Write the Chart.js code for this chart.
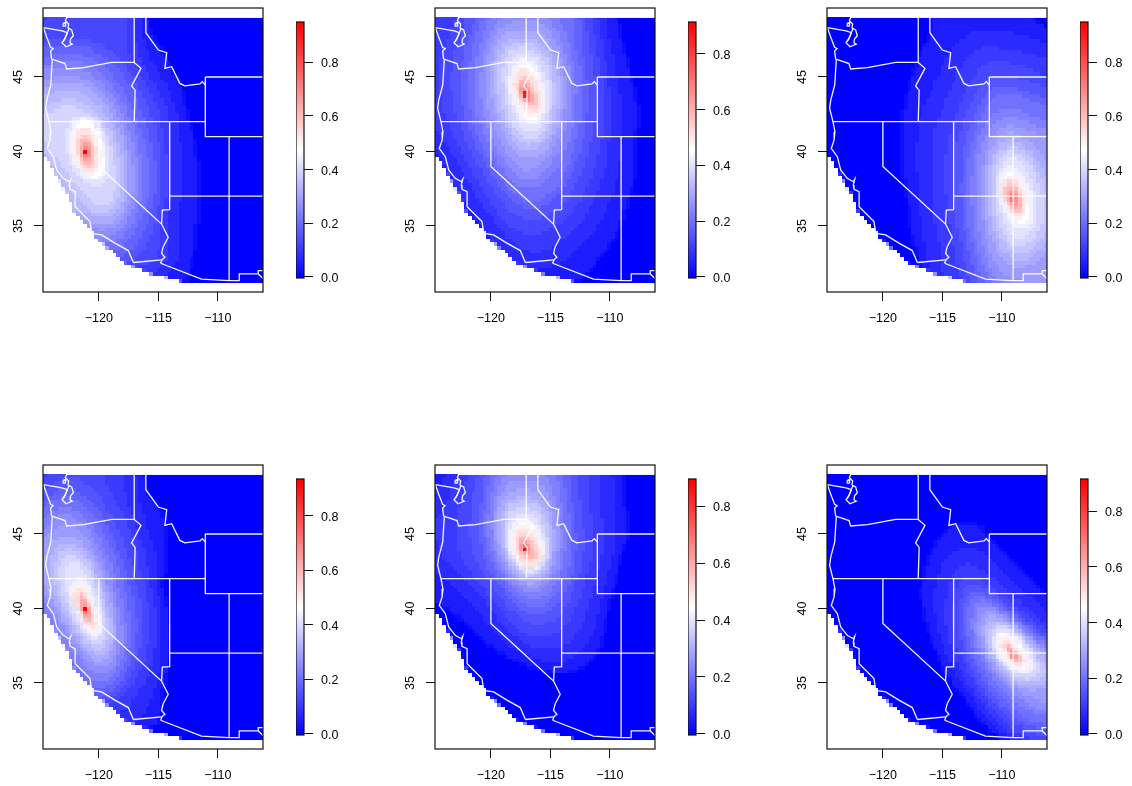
<!DOCTYPE html>
<html>
<head>
    <title>Six western US heat maps</title>
    <script src="https://cdn.jsdelivr.net/npm/chart.js"></script>
    <style>
        body { margin: 0; background: #fff; }
        canvas { position: absolute; }
    </style>
</head>
<body>
    <script>
        // Tick labels
        var xTickValues = [-120, -115, -110];
        var yTickValues = [35, 40, 45];
        var barTickValues = [0, 0.2, 0.4, 0.6, 0.8];

        // Top of each colour bar
        var barMax = [0.95, 0.914, 0.95, 0.934, 0.896, 0.916];

        // Contour levels and rings (lon, lat, lon, lat ...)
        var p1Levels = [0.062, 0.124, 0.19, 0.26, 0.333, 0.404, 0.475, 0.522, 0.594, 0.665, 0.76, 0.95];
        var p1Rings = [
            [-115.9,50,-115.6,48,-114.4,46.8,-113.8,45.5,-112.8,44.4,-112.5,42.5,-112,41.5,-111.7,40,-111.4,37.5,-111.4,36.2,-111.7,35,-111.9,33,-112.2,32.3,-112.6,31,-125,31,-125,50],
            [-124,50,-117.1,50,-116.9,47.5,-116.5,46,-115.2,44.5,-114.2,42.6,-114,41,-113.9,38,-114,36.5,-114.4,36,-114.1,34.5,-114.2,33,-114.6,32.5,-115,32,-125,31,-125,48.4],
            [-124.7,47.2,-123.5,47.4,-122,47.4,-120.3,47.1,-118.7,46.2,-117.4,45,-116.6,43.7,-115.7,42,-115.1,40,-114.9,38,-115.1,36.5,-115.6,35,-116.4,33.7,-117.2,33,-125,31,-125,47.2],
            [-124.7,45.8,-123.5,46,-122,46.1,-120.5,45.7,-119.3,44.8,-118.2,43.6,-117.4,42.2,-116.7,40.5,-116.3,38.7,-116.4,37,-116.9,35.7,-117.6,34.7,-118.5,34,-125,33,-125,45.8],
            [-124.7,44.2,-124,44.6,-122.7,44.8,-121.3,44.6,-120,43.9,-119,42.8,-118.2,41.5,-117.7,40,-117.4,38.5,-117.5,37,-118,36,-118.7,35.2,-119.6,35,-121,35.4,-125,36,-125,44.2],
            [-124.7,42.4,-123.6,43.2,-122.4,43.4,-121.2,43,-120,42.2,-119.1,41.2,-118.5,39.8,-118.2,38.5,-118.3,37.1,-119,36.1,-120.2,35.9,-121.2,36.7,-122.5,38,-124.2,40,-124.7,41],
            [-121.6,42.3,-120.6,42.2,-119.8,41.3,-119.4,40,-119.3,38.9,-119.8,38.1,-120.6,38,-121.5,38.5,-122.2,39.5,-122.5,40.8,-122.2,41.8],
            [-121.5,41.7,-120.8,41.6,-120.3,41,-120,40,-120,39.1,-120.4,38.5,-120.9,38.45,-121.5,38.9,-122,39.8,-122.15,40.8,-121.9,41.5],
            [-121.4,41.1,-120.9,41,-120.5,40.4,-120.4,39.5,-120.6,39,-121,38.9,-121.4,39.3,-121.8,40.1,-121.8,40.8],
            [-121.3,40.6,-120.9,40.5,-120.7,39.9,-120.8,39.5,-121.1,39.3,-121.4,39.6,-121.5,40.2],
            [-121.2,40.25,-121,40.2,-120.95,39.8,-121.1,39.6,-121.25,39.8],
            [-121.25,40.1,-120.95,40.1,-120.95,39.85,-121.25,39.85]
        ];

        var p2Levels = [0.059, 0.091, 0.137, 0.206, 0.274, 0.343, 0.411, 0.457, 0.503, 0.571, 0.64, 0.731, 0.914];
        var p2Rings = [
            [-109.6,50,-109,48.2,-108.6,46.8,-108.2,45.2,-107.6,43.6,-107.6,41,-107.7,38.5,-108.2,37,-108.6,35.8,-109.6,34,-110.6,33,-112.7,31.1,-125,31,-125,50],
            [-111.5,50,-110.8,47.5,-110.3,46,-110,44.5,-109.6,43,-109.6,41,-109.8,39,-110.3,37.5,-111,36,-112,34.8,-113,34,-114.5,33,-116,32.5,-118,33,-120,35,-122,37.5,-123.5,39.5,-124.7,41.3,-125,50],
            [-122.3,50,-111.8,50,-110.9,47,-110.5,45,-110.4,43,-110.6,41,-111.2,39,-112,37.5,-113,36,-114.5,35,-116.5,34.3,-118.5,35,-120,36.5,-121.5,38.5,-122.8,40.5,-124,43,-124.3,45.5,-123.8,47.5],
            [-120.8,50,-113.2,50,-112.5,47,-112,45,-111.9,43.5,-112.2,41.5,-112.7,39.8,-113.5,38.2,-114.5,37,-116,36.2,-117.5,36.3,-119,37.5,-120.5,39.5,-121.7,41.5,-122.4,43.5,-122.4,45.5,-121.8,47.5],
            [-119.6,48.9,-117.3,49.3,-115,48.9,-113.9,47,-113.3,45,-113.3,43.5,-113.6,41.8,-114.3,40,-115.2,38.8,-116.5,38,-117.8,38.2,-119,39.5,-120,41,-120.8,43,-120.9,45,-120.3,47.5],
            [-119.1,47.6,-117.5,47.9,-115.8,47.6,-114.9,46.5,-114.3,45,-114.3,43.3,-114.6,41.8,-115.3,40.6,-116.5,39.8,-117.5,40,-118.5,41.2,-119.4,43,-119.8,45,-119.6,46.7],
            [-118.8,46.6,-117.3,46.9,-115.8,46.4,-115.1,45.5,-114.9,44,-115,42.4,-115.6,41.2,-116.6,40.8,-117.7,41.1,-118.5,42.3,-119,44,-119.1,45.6],
            [-118,45.8,-117.2,46.2,-116.2,45.6,-115.5,44.3,-115.4,43,-115.9,42.1,-116.7,41.9,-117.6,42.5,-118.2,43.5,-118.4,44.8],
            [-117.9,45.3,-117.2,45.6,-116.5,45.2,-115.9,44.3,-115.7,43.3,-116,42.6,-116.6,42.4,-117.3,42.8,-118,43.8,-118.2,44.6],
            [-117.6,44.9,-117.1,45.1,-116.6,44.6,-116.2,43.9,-116.1,43.2,-116.5,42.9,-117,43.1,-117.5,43.6,-117.8,44.3],
            [-117.5,44.5,-117,44.5,-116.6,44,-116.5,43.4,-116.8,43.3,-117.2,43.5,-117.5,44],
            [-117.3,44.2,-116.9,44.1,-116.8,43.7,-117,43.5,-117.3,43.7],
            [-117.2,44.1,-116.95,44.1,-116.95,43.65,-117.2,43.65]
        ];

        var p3Levels = [0.062, 0.095, 0.143, 0.214, 0.285, 0.356, 0.428, 0.475, 0.522, 0.594, 0.665, 0.76, 0.95];
        var p3Rings = [
            [-116.1,50,-116.1,48,-116.8,47,-117.2,46,-117.9,44.5,-118.3,43.2,-118.5,41,-118.6,39.5,-118.3,37.8,-117.9,36,-117.7,34.6,-117,32.6,-116,31,-106,31,-106,48,-107,48.8,-108,50],
            [-112.5,47.6,-110.5,47.5,-108.5,47.3,-106,46.5,-106,31,-115.6,31,-116,33.5,-116.3,35,-116.5,37,-116.6,39,-116.5,41,-116,42.7,-115.2,44,-114.2,46],
            [-111.5,46,-109.5,46,-107.5,45.5,-106,44.5,-106,31,-113,31,-113.8,33,-114.3,35,-114.6,37,-114.7,39,-114.4,41,-113.8,42.5,-113,44.2,-112.4,45],
            [-111,44.2,-109.5,44.3,-107.5,43.8,-106,43,-106,31,-111.7,31,-112.4,32.5,-113,34.5,-113.3,36.5,-113.3,38.5,-113,40.3,-112.4,42,-111.7,43.2],
            [-110.5,42.2,-109.3,42.4,-107.8,42,-106,41,-106,31,-109.5,31,-110.6,31.5,-111.4,33,-112,35,-112.2,37,-112.1,38.8,-111.7,40.5,-111.1,41.5],
            [-110.2,40.8,-109.2,41,-108,40.5,-107,39.5,-106.4,38,-106.2,36,-106.4,34,-107.2,32.8,-108.5,32.5,-109.8,33,-110.6,34.3,-111,36,-111.1,38,-110.8,39.6],
            [-110.3,39.7,-109.2,40.1,-108,39.6,-107.2,38.4,-106.8,36.7,-106.9,35,-107.7,33.9,-108.9,33.6,-109.9,34.6,-110.6,36,-110.7,37.5,-110.6,38.8],
            [-109.9,38.7,-109.2,38.9,-108.4,38.4,-107.7,37.3,-107.4,36,-107.6,35.2,-108.2,34.9,-109,35.3,-109.7,36,-110.2,37,-110.4,38],
            [-109.8,38.2,-109.2,38.4,-108.5,37.9,-108,37,-108,36,-108.3,35.5,-108.9,35.6,-109.6,36.3,-110.1,37.1,-110.2,37.8],
            [-109.6,37.9,-109.1,38,-108.6,37.5,-108.3,36.6,-108.3,36,-108.7,35.8,-109.3,36.2,-109.8,36.9,-109.9,37.5],
            [-109.4,37.5,-109,37.6,-108.7,37.1,-108.6,36.4,-108.8,36.2,-109.2,36.5,-109.5,37],
            [-109.2,37.2,-108.9,37.2,-108.8,36.7,-109,36.5,-109.2,36.7],
            [-109,36.9,-108.9,36.9,-108.9,36.75,-109,36.75]
        ];

        var p4Levels = [0.061, 0.093, 0.14, 0.21, 0.28, 0.35, 0.42, 0.467, 0.514, 0.584, 0.654, 0.747, 0.934];
        var p4Rings = [
            [-116.1,50,-116,48.1,-115,46.9,-114.3,46,-114.3,42.5,-114.6,42,-114.6,41,-114.2,40,-114.1,37,-114.2,36,-114.5,34.7,-114.6,33,-115,32,-125,31,-125,50],
            [-117.1,50,-117,47,-116.8,45.5,-116,44.3,-115.6,42.5,-115.1,41,-115,39,-114.9,37,-115,36,-115.6,34.8,-116.5,33.5,-117.3,32.7,-125,31,-125,50],
            [-124.7,48,-123.5,50,-120.3,50,-118.9,47.5,-117.5,46,-117,44.5,-116.5,43,-116,41,-115.7,39.5,-115.9,37.5,-116.5,36,-117.3,35,-118.3,34.2,-125,31.5],
            [-124.7,46.8,-123.7,47.8,-122.3,48,-120.8,47.2,-119.7,46,-118.8,44.5,-118,43,-117.4,41.2,-116.9,39.5,-117,37.8,-117.5,36.3,-118.2,35,-119.3,34.3,-125,34],
            [-124.6,45,-123.5,46.3,-122.4,46.3,-121,45.5,-120.2,44.3,-119.5,43,-118.9,41.3,-118.3,39.5,-118.1,38,-118.4,36.6,-119.1,35.6,-120.2,35.5,-121.5,36.7,-123.5,39,-125,41.5],
            [-124,44,-123.3,44.7,-122.3,44.6,-121.2,43.9,-120.4,42.6,-119.7,41.2,-119.2,39.7,-118.9,38.3,-119.2,37,-120,36.5,-120.9,37.2,-122,38.5,-123.3,40.3,-124.2,42],
            [-123.4,43.2,-122.3,43.7,-121,43,-120.1,41.6,-119.5,40.1,-119.2,38.7,-119.5,37.5,-120.4,37.3,-121.4,38.2,-122.5,39.6,-123.3,41.3],
            [-122.3,41.5,-121.5,41.9,-120.8,41.3,-120.1,40,-119.8,38.8,-120.2,38.2,-120.8,38.3,-121.5,39,-122.1,40.2,-122.4,41],
            [-122.1,41.2,-121.6,41.6,-121,41,-120.4,39.9,-120.1,39,-120.3,38.5,-120.8,38.6,-121.4,39.3,-122,40.2,-122.2,40.8],
            [-121.8,40.9,-121.5,41.1,-121,40.5,-120.6,39.6,-120.5,39,-120.8,38.9,-121.3,39.5,-121.7,40.2],
            [-121.5,40.5,-121.2,40.6,-120.9,40,-120.8,39.4,-121,39.3,-121.3,39.7,-121.5,40.1],
            [-121.3,40.2,-121,40.2,-120.9,39.8,-121.1,39.6,-121.3,39.9],
            [-121.25,40.1,-120.95,40.1,-120.95,39.85,-121.25,39.85]
        ];

        var p5Levels = [0.058, 0.09, 0.134, 0.202, 0.269, 0.336, 0.403, 0.448, 0.493, 0.56, 0.627, 0.717, 0.896];
        var p5Rings = [
            [-123.7,50,-109,50,-108.6,47.2,-108.3,45,-108.7,44,-109,43.2,-109.4,41.7,-110,40,-110.6,37.6,-111.1,36.6,-112.8,35.7,-114.6,35.5,-116.7,36,-119.5,37,-122.3,39,-124.7,40.5,-125,41,-125,48.4],
            [-122.6,50,-110.8,50,-110.3,47,-110,45,-110.3,43,-110.9,41.5,-111.3,39.5,-112.2,38,-113.5,37,-115.2,36.7,-117,37.2,-119,38.5,-121,40.5,-122.8,42,-124.5,43,-124.7,46,-124,48],
            [-121.3,50,-112.3,50,-111.8,47,-111.4,45,-111.6,43,-112.2,41.5,-112.8,40,-114,38.5,-115.5,38,-117.3,38.3,-119,39.7,-120.7,41.5,-122.3,43,-123,45,-122.6,47.5],
            [-120.2,50,-113.8,50,-113.3,47,-112.9,45,-113,43.2,-113.6,41.6,-114.5,40.3,-115.8,39.6,-117.2,39.9,-118.6,41,-120,42.7,-120.8,44.5,-120.8,46.5],
            [-119.3,48.9,-117.2,49.2,-115.2,48.9,-114.5,47.2,-114.1,45.3,-114.2,43.5,-114.8,42,-115.7,41.2,-116.8,41,-118,41.6,-119.2,43,-119.8,44.8,-119.8,47],
            [-119,47.3,-117.5,47.7,-115.8,47.3,-115,46,-114.9,44.3,-115.3,42.8,-116.2,42,-117.1,42,-118.2,42.8,-119.1,44.3,-119.3,46],
            [-118.9,46.4,-117.3,46.9,-115.8,46.3,-115.3,45,-115.3,43.6,-115.8,42.6,-116.8,42.2,-117.9,42.9,-118.8,44.4],
            [-118.2,45.7,-117.2,46,-116.2,45.5,-115.5,44.6,-115.4,43.4,-116,42.6,-116.8,42.5,-117.8,43,-118.5,43.9,-118.6,44.9],
            [-118,45.3,-117.2,45.5,-116.4,45.1,-115.8,44.2,-115.7,43.3,-116.2,42.8,-116.9,42.7,-117.6,43.3,-118.1,44.1,-118.2,44.8],
            [-117.8,44.8,-117.1,45,-116.5,44.5,-116.2,43.9,-116.2,43.4,-116.7,43.2,-117.3,43.4,-117.7,43.9],
            [-117.5,44.5,-117,44.5,-116.6,44,-116.6,43.6,-116.9,43.6,-117.3,43.7,-117.5,44.1],
            [-117.3,44.3,-116.95,44.3,-116.85,44,-117,43.8,-117.3,43.9],
            [-117.2,44.2,-116.95,44.2,-116.95,43.75,-117.2,43.75]
        ];

        var p6Levels = [0.06, 0.092, 0.137, 0.206, 0.275, 0.344, 0.412, 0.458, 0.504, 0.573, 0.641, 0.733, 0.916];
        var p6Rings = [
            [-113.8,45.9,-111.8,45.7,-110.9,44.8,-109.2,43.4,-107.5,42.1,-106.3,41,-106,41,-106,31,-109.4,31,-110.8,31.8,-112.2,32.8,-113.6,34.4,-114.9,35.5,-115.3,36.6,-116.2,38.2,-116.7,39.9,-116.9,41,-116.5,42.8,-116,44.1,-115.1,45.1],
            [-114.1,43.2,-112.6,43.6,-111,42.7,-109.5,41.5,-108,40.5,-106.6,39.4,-106,38.8,-106,31,-108.5,31,-110,31.8,-111.5,33.2,-113,35,-114,36.3,-114.9,38,-115.1,39.8,-115,41.5,-114.7,42.6],
            [-113.6,41.9,-112.5,42.3,-111,41.4,-109.5,40.4,-108,39.4,-106.7,38.5,-106,37.9,-106,31,-107.5,31,-109,31.9,-110.5,33,-112,34.6,-113,36.2,-113.8,38,-114.1,39.9],
            [-113,41,-111.7,41.2,-110.5,40.4,-109,39.5,-107.5,38.5,-106,37.4,-106,32,-107,32,-108.7,32.6,-110.2,33.7,-111.6,35.2,-112.7,37,-113.3,38.8],
            [-112.1,40.3,-111,40.4,-109.8,39.5,-108.5,38.6,-107,37.7,-106,36.8,-106,33.2,-107.2,33.3,-108.8,34.2,-110.2,35.5,-111.5,37,-112.3,38.6],
            [-111.3,39.5,-110.4,39.6,-109.3,38.7,-108,37.7,-106.8,36.7,-106.2,35.6,-107,34.8,-108.5,35,-109.8,35.9,-110.9,37,-111.5,38.3],
            [-110.9,38.6,-109.7,39.1,-108.6,38.6,-107.5,37.5,-106.8,36.3,-107,35.3,-108.3,35.1,-109.6,35.7,-110.8,36.8,-111.2,37.8],
            [-110.6,38.3,-109.7,38.6,-108.7,38.1,-107.8,37.2,-107.4,36.2,-107.9,35.7,-109.1,35.9,-110.3,36.7,-110.7,37.6],
            [-110,38,-109.5,38.1,-108.8,37.5,-108.1,36.8,-107.9,36.3,-108.5,36.1,-109.2,36.4,-110,37.1,-110.2,37.6],
            [-109.7,37.7,-109.4,37.7,-108.9,37.2,-108.4,36.7,-108.3,36.5,-108.7,36.4,-109.3,36.8,-109.7,37.3],
            [-109.5,37.5,-109.2,37.4,-108.9,37,-108.6,36.7,-108.7,36.55,-109.1,36.7,-109.5,37.1],
            [-109.2,37.1,-109,37.1,-108.8,36.8,-108.9,36.65,-109.2,36.8],
            [-109.05,37,-108.9,37,-108.9,36.75,-109.05,36.75]
        ];

        // Edge of the gridded area (same in all panels)
        var gridOutline = [-125,50,-106,50,-106,30,-125,30];
        var northMask = [-125,49.05,-106,49.05,-106,50,-125,50];
        var offshoreMask = [-125,39.8,-124.67,39.77,-124.1,39.2,-123.83,38.75,-123.4,38.1,-122.85,37.4,-122.3,36.6,-122,35.85,-121.3,35.3,-120.6,34.6,-119.9,33.95,-119.2,33.5,-118.65,33.15,-117.95,32.6,-116.85,32.15,-115.15,31.7,-114.05,31.5,-112.75,31.15,-106,31.15,-106,30,-125,30];

        // State lines and coast
        var borderLines = [
            [-122.76,49,-106,49],
            [-124.67,48.31,-124.4,47.7,-124.06,46.99,-123.85,46.9,-124.06,46.75,-123.98,46.25,-123.92,46.14,-124.05,44.46,-124.38,43.46,-124.48,42.9,-124.2,42,-124.03,41.33,-124.1,40.77,-124.34,40.2,-123.83,39.65,-123.55,38.76,-123,38.2,-122.49,37.97,-122.37,38.13,-122.49,37.75,-122.43,37.46,-122,37.3,-122,36.3,-120.75,35.3,-120.6,34.5,-119.77,34.4,-118.65,33.85,-117.53,33.35,-117.1,32.55],
            [-124.67,48.31,-123.1,48.1,-122.65,47.97],
            [-122.71,49,-122.82,48.78,-122.54,48.56,-122.6,48.29,-122.29,48.15,-122.15,47.77,-122.38,47.57,-122.43,47.3,-122.24,47.21,-122.77,47.03,-123.1,47.3,-122.85,47.57,-122.65,47.97],
            [-123,48.6,-122.77,48.67,-122.82,48.42,-123,48.42,-123,48.6],
            [-122.5,48.27,-122.77,47.75,-123,47.37],
            [-123.89,46.18,-122.85,45.9,-122.71,45.54,-121.3,45.63,-118.93,45.98,-117.03,45.98],
            [-117.03,49,-117.03,45.98,-116.46,45.58,-117.25,44.4,-116.95,44.1,-117.03,42],
            [-116.05,49,-116.05,47.97,-115,46.81,-114.3,46.63,-114.45,45.58,-113.88,45.69,-113.19,44.57,-112.77,44.4,-111.5,44.53,-111.3,44.69,-111.05,44.46],
            [-124.2,42,-111.05,42],
            [-111.05,45,-111.05,41,-106,41],
            [-111.05,45,-106,45],
            [-120,42,-120,39,-114.73,35.13,-114.17,34.24,-114.59,33.61,-114.73,33.16,-114.45,32.9,-114.67,32.76,-114.81,32.5],
            [-114.05,42,-114.05,36.1,-114.67,36.07,-114.73,35.13],
            [-117.1,32.55,-114.72,32.72],
            [-114.05,37,-106,37],
            [-109.05,41,-109.05,31.33],
            [-114.81,32.5,-111.37,31.44,-109.07,31.33,-108.2,31.33,-108.2,31.78,-106.6,31.78,-106.2,31.48],
            [-106.6,31.78,-106.6,32,-106,32]
        ];

        var panelLeft = [43, 435, 827, 43, 435, 827];
        var panelTop = [8, 8, 8, 465, 465, 465];
        var panelLevels = [p1Levels, p2Levels, p3Levels, p4Levels, p5Levels, p6Levels];
        var panelRings = [p1Rings, p2Rings, p3Rings, p4Rings, p5Rings, p6Rings];

        Chart.defaults.font.family = '"Liberation Sans", Arial, sans-serif';
        Chart.defaults.font.size = 12.5;
        Chart.defaults.color = '#000';
        Chart.defaults.animation = false;

        function toPoints(flat) {
            var pts = [];
            for (var i = 0; i < flat.length; i += 2) {
                pts.push({ x: flat[i], y: flat[i + 1] });
            }
            return pts;
        }

        // blue - white - red with white half way up the panel's own range
        function valueColor(v, max) {
            var half = max / 2;
            if (v <= half) {
                var g = Math.round(255 * v / half);
                return 'rgb(' + g + ',' + g + ',255)';
            }
            var r = Math.round(255 * (max - v) / half);
            return 'rgb(255,' + r + ',' + r + ')';
        }

        function minusLabel(v) {
            return v < 0 ? '\u2212' + Math.abs(v) : String(v);
        }

        function addCanvas(left, top, width, height) {
            var c = document.createElement('canvas');
            c.width = width;
            c.height = height;
            c.style.left = left + 'px';
            c.style.top = top + 'px';
            document.body.appendChild(c);
            return c.getContext('2d');
        }

        // box round the plot region, like R's box()
        var framePlugin = {
            id: 'frame',
            afterDraw: function(chart) {
                var a = chart.chartArea, ctx = chart.ctx;
                ctx.save();
                ctx.strokeStyle = '#111';
                ctx.lineWidth = 1.2;
                ctx.strokeRect(a.left, a.top, a.right - a.left, a.bottom - a.top);
                ctx.restore();
            }
        };

        // softens the contour steps inside the plot region
        function softenArea(chart, px) {
            var a = chart.chartArea, ctx = chart.ctx;
            var w = a.right - a.left, h = a.bottom - a.top;
            var copy = document.createElement('canvas');
            copy.width = ctx.canvas.width;
            copy.height = ctx.canvas.height;
            copy.getContext('2d').drawImage(ctx.canvas, a.left, a.top, w, h, a.left, a.top, w, h);
            ctx.save();
            ctx.beginPath();
            ctx.rect(a.left, a.top, w, h);
            ctx.clip();
            ctx.filter = 'blur(' + px + 'px)';
            ctx.drawImage(copy, 0, 0);
            ctx.restore();
        }

        function rampStep(raw) {
            var step = 255 / 18;
            return raw < 17 ? 0 : Math.min(255, Math.round(Math.round(raw / step) * step));
        }

        // Turns the painted surface into grid cells with a limited colour ramp
        function toCells(chart) {
            var a = chart.chartArea;
            var w = a.right - a.left, h = a.bottom - a.top;
            var gridTop = chart.scales.y.getPixelForValue(49.05) - a.top;
            var cw = 3.67, ch = 3.7;
            var src = chart.ctx.getImageData(a.left, a.top, w, h);
            var out = chart.ctx.createImageData(w, h);
            for (var y = 0; y < h; y++) {
                var row = Math.floor((y + 0.5 - gridTop) / ch);
                var sy = Math.min(h - 1, Math.max(0, Math.floor(gridTop + (row + 0.5) * ch)));
                for (var x = 0; x < w; x++) {
                    var sx = Math.min(w - 1, Math.floor((Math.floor((x + 0.5) / cw) + 0.5) * cw));
                    var s = (sy * w + sx) * 4, d = (y * w + x) * 4;
                    var g = rampStep(src.data[s + 1]);
                    out.data[d] = src.data[s] > 250 ? 255 : g;
                    out.data[d + 1] = g;
                    out.data[d + 2] = src.data[s + 2] > 250 ? 255 : g;
                    out.data[d + 3] = 255;
                }
            }
            chart.ctx.putImageData(out, a.left, a.top);
        }

        var cellPlugin = {
            id: 'cells',
            afterDatasetDraw: function(chart, args) {
                var ds = chart.data.datasets[args.index];
                if (ds.softenPx) softenArea(chart, ds.softenPx);
                if (ds.cellLayer) toCells(chart);
            }
        };

        function fixedTicks(values) {
            return function(scale) {
                scale.ticks = values.map(function(v) { return { value: v }; });
            };
        }

        function tickGrid() {
            return { drawOnChartArea: false, drawTicks: true, tickLength: 9, color: '#111', lineWidth: 1 };
        }

        function noAxisPadding(s) {
            s.paddingTop = 0;
            s.paddingBottom = 0;
            s.paddingLeft = 0;
            s.paddingRight = 0;
        }

        function shape(flat, color, tension) {
            return {
                data: toPoints(flat),
                showLine: true,
                fill: 'shape',
                backgroundColor: color,
                borderWidth: 0,
                pointRadius: 0,
                tension: tension
            };
        }

        function drawMap(i) {
            var max = barMax[i];
            var levels = panelLevels[i];
            var sets = [shape(gridOutline, valueColor(0, max), 0)];
            panelRings[i].forEach(function(ring, k) {
                var s = shape(ring, valueColor(levels[k], max), 0.3);
                if (k === levels.length - 7) s.softenPx = 7;
                if (k === levels.length - 6) s.softenPx = 3;
                if (k === levels.length - 2) s.softenPx = 1.5;
                sets.push(s);
            });
            sets.push(shape(northMask, '#fff', 0));
            var mask = shape(offshoreMask, '#fff', 0);
            mask.cellLayer = true;
            sets.push(mask);
            borderLines.forEach(function(line) {
                sets.push({
                    data: toPoints(line),
                    showLine: true,
                    fill: false,
                    borderColor: 'rgba(255,255,255,0.95)',
                    borderWidth: 1.3,
                    pointRadius: 0,
                    tension: 0
                });
            });
            sets.forEach(function(s, k) { s.order = sets.length - k; });

            new Chart(addCanvas(panelLeft[i] - 43, panelTop[i] - 8, 268, 342), {
                type: 'scatter',
                data: { datasets: sets },
                plugins: [cellPlugin, framePlugin],
                options: {
                    responsive: false,
                    devicePixelRatio: 1,
                    layout: { padding: { top: 8, right: 5, left: 0, bottom: 0 } },
                    plugins: { legend: { display: false }, tooltip: { enabled: false } },
                    scales: {
                        x: {
                            type: 'linear', min: -124.7, max: -106.2,
                            afterBuildTicks: fixedTicks(xTickValues),
                            afterFit: function(s) { s.height = 50; noAxisPadding(s); },
                            grid: tickGrid(),
                            border: { display: false },
                            ticks: { callback: minusLabel, maxRotation: 0, padding: 10, autoSkip: false }
                        },
                        y: {
                            type: 'linear', min: 30.57, max: 49.63,
                            afterBuildTicks: fixedTicks(yTickValues),
                            afterFit: function(s) { s.width = 43; noAxisPadding(s); },
                            grid: tickGrid(),
                            border: { display: false },
                            ticks: { minRotation: 90, maxRotation: 90, crossAlign: 'center', padding: 9, autoSkip: false }
                        }
                    }
                }
            });
        }

        function drawBar(i) {
            var max = barMax[i];
            var ctx = addCanvas(panelLeft[i] + 253, panelTop[i] + 6, 60, 272);
            var ramp = ctx.createLinearGradient(0, 264, 0, 8);
            ramp.addColorStop(0, valueColor(0, max));
            ramp.addColorStop(0.5, valueColor(max / 2, max));
            ramp.addColorStop(1, valueColor(max, max));
            new Chart(ctx, {
                type: 'bar',
                data: {
                    labels: ['value'],
                    datasets: [{
                        data: [[-0.004, max]],
                        barPercentage: 1,
                        categoryPercentage: 1,
                        backgroundColor: ramp
                    }]
                },
                plugins: [framePlugin],
                options: {
                    responsive: false,
                    devicePixelRatio: 1,
                    layout: { padding: { top: 8, right: 0, left: 0, bottom: 8 } },
                    plugins: { legend: { display: false }, tooltip: { enabled: false } },
                    scales: {
                        x: { display: false },
                        y: {
                            position: 'right',
                            min: -0.004, max: max,
                            afterBuildTicks: fixedTicks(barTickValues),
                            afterFit: function(s) { s.width = 52; noAxisPadding(s); },
                            grid: tickGrid(),
                            border: { display: false },
                            ticks: {
                                padding: 8,
                                autoSkip: false,
                                // small line height with an empty first line drops the digits 1.5px onto the tick
                                font: { lineHeight: '3px' },
                                callback: function(v) { return ['', v.toFixed(1)]; }
                            }
                        }
                    }
                }
            });
        }

        for (var i = 0; i < 6; i++) {
            drawMap(i);
            drawBar(i);
        }
    </script>
</body>
</html>
